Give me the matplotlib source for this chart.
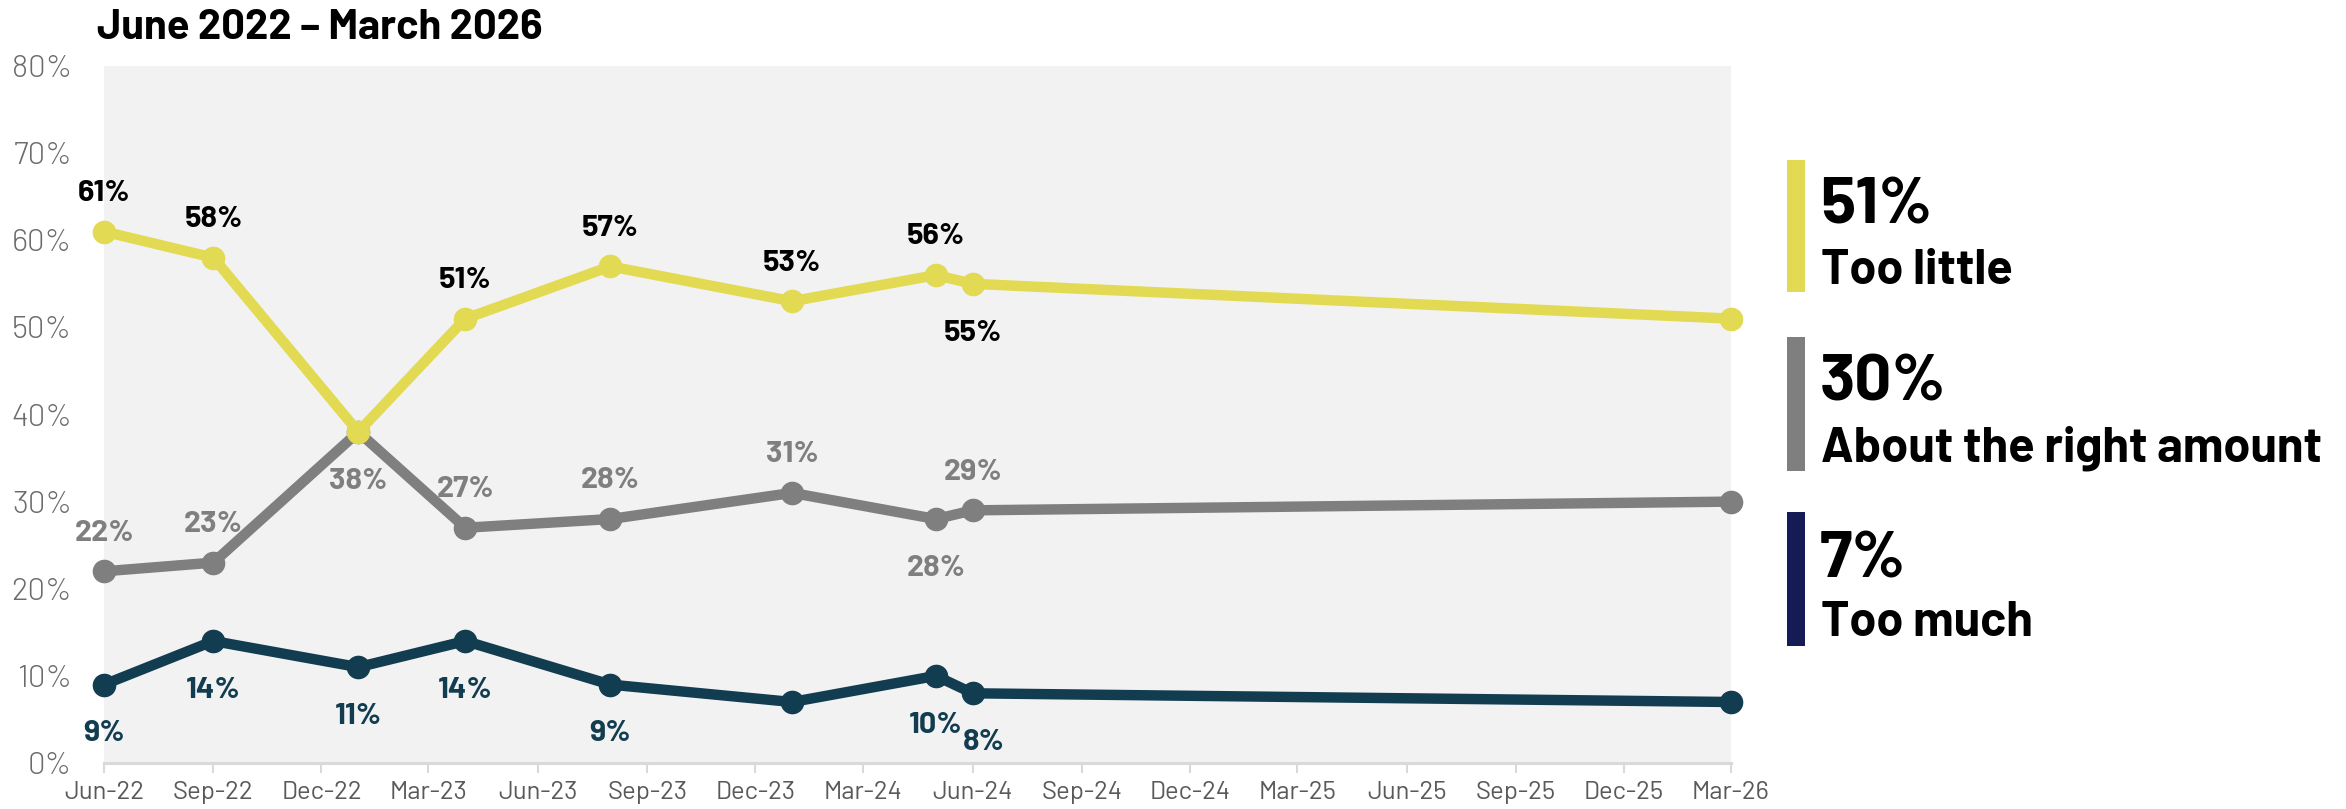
import matplotlib
matplotlib.use("Agg")
import matplotlib.pyplot as plt
import matplotlib.dates as mdates
from matplotlib.patches import Rectangle
import datetime as dt

# ---------------- data ----------------
survey_months = ["2022-06", "2022-09", "2023-01", "2023-04", "2023-08",
                 "2024-01", "2024-05", "2024-06", "2026-03"]
too_little = [61, 58, 38, 51, 57, 53, 56, 55, 51]
about_right = [22, 23, 38, 27, 28, 31, 28, 29, 30]
too_much = [9, 14, 11, 14, 9, 7, 10, 8, 7]

# which points carry a value label: 'a' above, 'b' below, None none
too_little_lab = ['a', 'a', None, 'a', 'a', 'a', 'a', 'b', None]
about_right_lab = ['a', 'a', 'b', 'a', 'a', 'a', 'b', 'a', None]
too_much_lab = ['b', 'b', 'b', 'b', 'b', None, 'b', 'b', None]

series_names = ["Too little", "About the right amount", "Too much"]
latest_values = [51, 30, 7]
title = "June 2022 \u2013 March 2026"
y_ticks = [0, 10, 20, 30, 40, 50, 60, 70, 80]

# ---------------- style ----------------
W, H, DPI = 2346, 809, 100
BARLOW = ['Barlow', 'DejaVu Sans']
plt.rcParams['font.family'] = BARLOW

c_yellow = "#E2DA52"
c_gray = "#7F7F7F"
c_navy_line = "#123C50"
c_navy_bar = "#141B55"

dates = [dt.datetime.strptime(m + "-01", "%Y-%m-%d") for m in survey_months]

fig = plt.figure(figsize=(W / DPI, H / DPI), dpi=DPI)
fig.patch.set_facecolor("white")

def px(x, y):
    return x / W, 1 - y / H

left, top = px(104, 66)
right, bottom = px(1731, 763)
ax = fig.add_axes([left, bottom, right - left, top - bottom])
ax.set_facecolor("#F2F2F2")

lw = 7.5
ms = 16
series = [
    (about_right, about_right_lab, c_gray, c_gray, 2),
    (too_much, too_much_lab, c_navy_line, c_navy_line, 2),
    (too_little, too_little_lab, c_yellow, "black", 3),
]
for vals, labs, col, tcol, z in series:
    ax.plot(dates, vals, color=col, lw=lw, marker="o", ms=ms,
            solid_joinstyle="round", zorder=z, clip_on=False)
    for i, (d, v, l) in enumerate(zip(dates, vals, labs)):
        if l is None:
            continue
        dy = 27.5 if l == 'a' else -35.5
        dx = 0
        if vals is too_much and i == 7:
            dx = 8
        ax.annotate(f"{v}%", (d, v), xytext=(dx, dy), textcoords="offset points",
                    ha="center", va="center", fontsize=22, fontweight="bold",
                    color=tcol, zorder=5, annotation_clip=False)

ax.set_ylim(0, 80)
ax.set_xlim(dt.datetime(2022, 6, 1), dt.datetime(2026, 3, 1))
ax.set_yticks(y_ticks)
ax.set_yticklabels([f"{t}%" for t in y_ticks])
ax.xaxis.set_major_locator(mdates.MonthLocator(bymonth=[3, 6, 9, 12], bymonthday=1))
ax.xaxis.set_major_formatter(mdates.DateFormatter("%b-%y"))

for s in ["left", "right", "top"]:
    ax.spines[s].set_visible(False)
ax.spines["bottom"].set_color("#D9D9D9")
ax.spines["bottom"].set_linewidth(2.2)
ax.tick_params(axis="y", length=0, pad=23, labelsize=22.5, labelcolor="#6B6B6B")
ax.tick_params(axis="x", length=7, width=1.5, color="#D9D9D9", pad=6,
               labelsize=18.5, labelcolor="#595959")
for t in ax.get_yticklabels():
    t.set_fontweight(300)
for t in ax.get_xticklabels():
    t.set_fontweight(400)

# title
tx, ty = px(97, 28)
fig.text(tx, ty, title, ha="left", va="center", fontsize=30, fontweight="bold",
         color="black")

# legend panel
bars = [(160, 292, c_yellow), (337, 471, c_gray), (512, 646, c_navy_bar)]
big_base = [224, 401, 577]
small_base = [284, 461, 636]
for (y0, y1, col), name, val, bb, sb in zip(bars, series_names, latest_values, big_base, small_base):
    x0, yb = px(1787, y1)
    fig.patches.append(Rectangle((x0, yb), 18 / W, (y1 - y0) / H, transform=fig.transFigure,
                                 facecolor=col, edgecolor="none"))
    fx, fy = px(1820, bb)
    fig.text(fx, fy, f"{val}%", ha="left", va="baseline", fontsize=47, fontweight="bold",
             color="black")
    fx, fy = px(1821, sb)
    fig.text(fx, fy, name, ha="left", va="baseline", fontsize=35, fontweight="bold",
             color="black")

fig.savefig("out.png", dpi=DPI)
